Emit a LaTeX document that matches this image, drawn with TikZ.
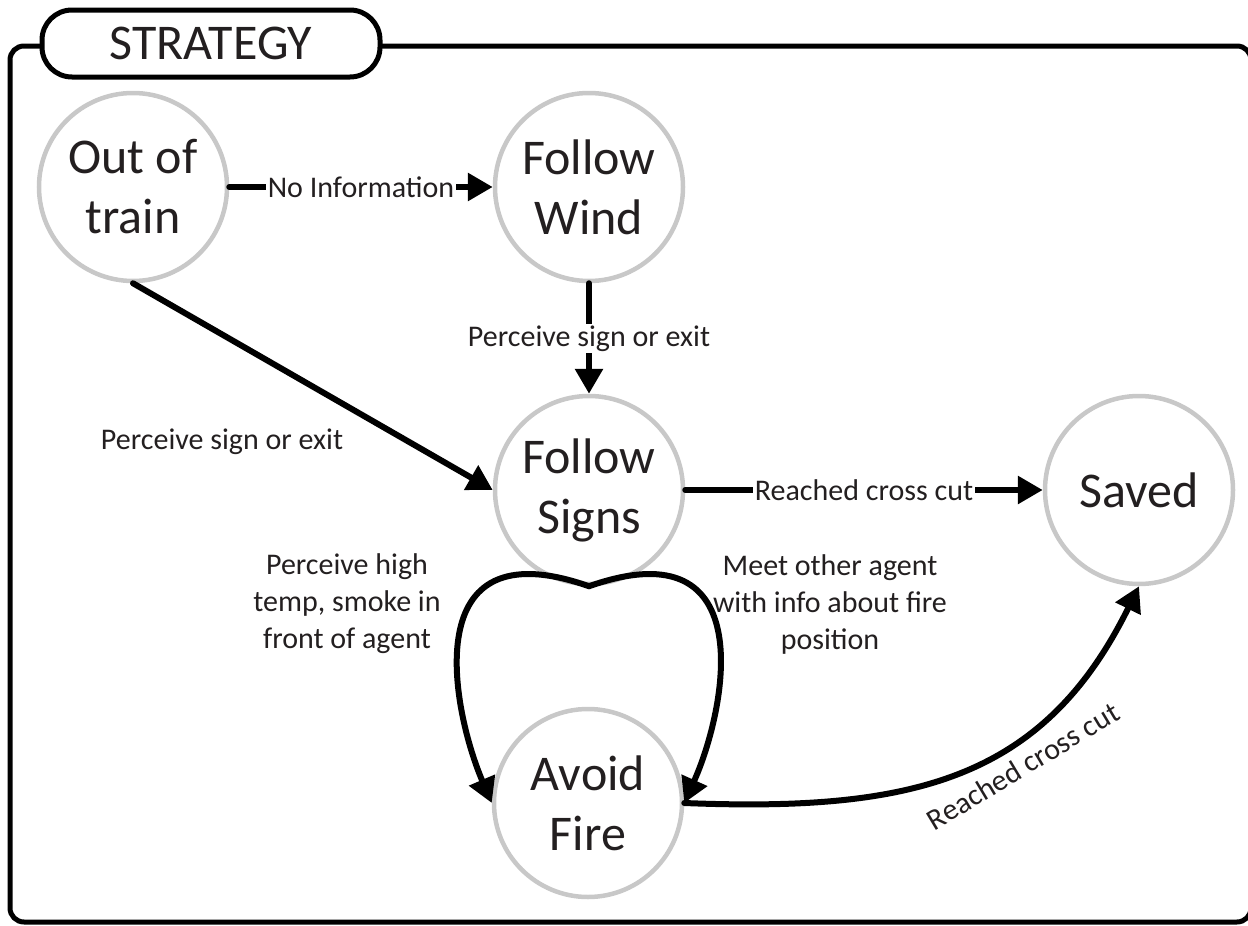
\documentclass[tikz,border=0pt]{standalone}
\usepackage{fontspec}
\setmainfont{Carlito}
\usetikzlibrary{arrows.meta}
\definecolor{circgray}{RGB}{200,200,200}
\definecolor{txt}{RGB}{35,31,32}
\begin{document}
\begin{tikzpicture}[x=0.5pt,y=-0.5pt,
  state/.style={circle,draw=circgray,line width=2.25pt,minimum size=94pt,inner sep=0pt,
    align=center,font=\fontsize{25}{30}\selectfont,text=txt},
  conn/.style={line width=3pt,draw=black,line cap=round,-{Triangle[length=12.5pt,width=13.5pt]}},
  lbl/.style={font=\fontsize{15}{18.5}\selectfont,text=txt,align=center,inner sep=1pt},
  onlbl/.style={lbl,fill=white},
  frame/.style={draw=black,line width=2.5pt,rounded corners=7pt},
  tabbox/.style={draw=black,fill=white,line width=2.5pt,rounded corners=15pt,
    minimum width=169pt,minimum height=33.5pt,inner sep=0pt,
    font=\fontsize{25}{30}\selectfont,text=txt}
]
\useasboundingbox (0,0) rectangle (1248,926);

% frame and tab
\draw[frame] (10,46) rectangle (1251,922);
\node[tabbox] (tab) at (211,43.5) {STRATEGY};

% states
\node[state] (out)   at (133,187) {Out of\\train};
\node[state] (wind)  at (589,187) {Follow\\Wind};
\node[state] (signs) at (589,490) {Follow\\Signs};
\node[state] (saved) at (1139,490) {Saved};
\node[state] (fire)  at (588,803) {Avoid\\Fire};

% connectors
\draw[conn] (out.east) -- node[onlbl] (l1) {No Information} (wind.west);
\draw[conn] (wind.south) -- node[onlbl] (l2) {Perceive sign or exit} (signs.north);
\draw[conn] (out.south) -- (signs.west);
\node[lbl] (l3) at (222,442) {Perceive sign or exit};
\draw[conn] (signs.east) -- node[onlbl] (l4) {Reached cross cut} (saved.west);

\draw[conn] (signs.south) .. controls (415,525) and (452,710) .. (fire.west);
\draw[conn] (signs.south) .. controls (763,525) and (726,710) .. (fire.east);
\node[lbl] (l5) at (347,604) {Perceive high\\temp, smoke in\\front of agent};
\node[lbl] (l6) at (830,604) {Meet other agent\\with info about fire\\position};

\draw[conn] (fire.east) .. controls (911,812) and (1043,781) .. (saved.south);
\node[lbl,rotate=31] (l7) at (1023,766) {Reached cross cut};
\end{tikzpicture}
\end{document}
